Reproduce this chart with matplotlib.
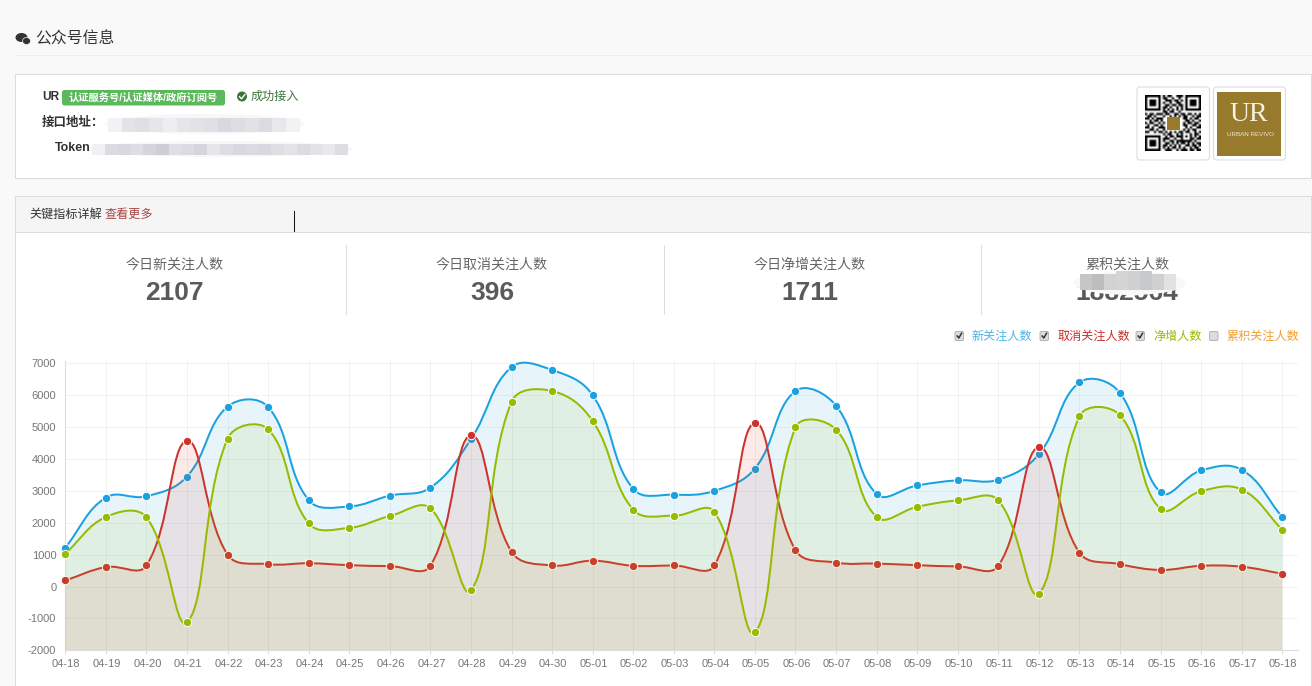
import matplotlib
matplotlib.use("Agg")
import matplotlib.pyplot as plt
import numpy as np
from matplotlib.patches import Rectangle, FancyBboxPatch, Ellipse, PathPatch
from matplotlib.path import Path
from matplotlib.transforms import ScaledTranslation

plt.rcParams['font.family'] = ['Liberation Sans', 'Noto Sans CJK SC', 'DejaVu Sans']
plt.rcParams['axes.unicode_minus'] = False

# chart data
dates = ["04-18", "04-19", "04-20", "04-21", "04-22", "04-23", "04-24", "04-25", "04-26", "04-27", "04-28",
         "04-29", "04-30", "05-01", "05-02", "05-03", "05-04", "05-05", "05-06", "05-07", "05-08", "05-09",
         "05-10", "05-11", "05-12", "05-13", "05-14", "05-15", "05-16", "05-17", "05-18"]
new_follow = [1220, 2790, 2830, 3450, 5640, 5630, 2710, 2510, 2850, 3100, 4620, 6880, 6790, 6000, 3060, 2880,
              3000, 3700, 6130, 5670, 2900, 3170, 3330, 3350, 4150, 6400, 6070, 2950, 3640, 3660, 2180]
cancel_follow = [190, 610, 660, 4570, 1000, 700, 730, 670, 640, 650, 4740, 1090, 660, 810, 650, 660,
                 660, 5130, 1140, 750, 720, 670, 630, 650, 4370, 1060, 700, 520, 650, 620, 400]
net_follow = [1030, 2180, 2170, -1120, 4640, 4930, 1980, 1840, 2210, 2450, -120, 5790, 6130, 5190, 2410, 2220,
              2340, -1430, 4990, 4920, 2180, 2500, 2700, 2700, -220, 5340, 5370, 2430, 2990, 3040, 1780]
y_ticks = [-2000, -1000, 0, 1000, 2000, 3000, 4000, 5000, 6000, 7000]

stat_titles = ["今日新关注人数", "今日取消关注人数", "今日净增关注人数", "累积关注人数"]
stat_values = ["2107", "396", "1711", "1882564"]
legend_names = ["新关注人数", "取消关注人数", "净增人数", "累积关注人数"]

# screenshot leftovers: mosaic tones of the blurred fields
blur_row1 = ["#f2f2f4", "#e4e3e8", "#e0dfe5", "#e6e5ea", "#eeeef0", "#e6e6ea", "#e3e2e7", "#e0dfe5", "#d9d8df", "#dedde3", "#e2e1e6", "#dcdbe1", "#e8e7ec", "#f2f2f4"]
blur_row2 = ["#f1f1f3", "#dcdbe1", "#d9d8df", "#dedde3", "#d6d5dc", "#cfced6", "#e0dfe5", "#dcdbe1", "#d6d5dc", "#e6e5ea", "#dedde3", "#d9d8df", "#dcdbe1", "#d9d8df", "#dfdee4", "#e4e3e8", "#dcdbe1", "#e3e2e7", "#e8e7ec", "#dedde3"]
blur_stat = ["#c6c6c6", "#bdbdbd", "#d2d2d2", "#d4d4d4", "#cfd0d2", "#c7c9cc", "#d0d0d0", "#e2e2e2"]
qr_rows = [
    "1111111010110011101111111",
    "1000001011001001001000001",
    "1011101001110110101011101",
    "1011101010010011001011101",
    "1011101001101101101011101",
    "1000001011010010101000001",
    "1111111010101010101111111",
    "0000000011011001000000000",
    "1011011101100110110110101",
    "0110100010010101011001011",
    "1101011100000000011010110",
    "0010110100000000001101001",
    "1011001010000000010110110",
    "0100110100000000011001101",
    "1101001110000000001010011",
    "0011010010000000010101100",
    "1100101101010101101100101",
    "0000000010110010100010110",
    "1111111001011011101010101",
    "1000001011100100100011011",
    "1011101010011011111110100",
    "1011101001101010110101011",
    "1011101011010101001101101",
    "1000001010101101010010110",
    "1111111001110010111011011",
]

W, H = 1312, 686
X_LEFT, X_LAST, X_RIGHT = 65.3, 1282.3, 1298.0
Y_TOP, Y_BOTTOM, Y_ABOVE = 363.3, 650.3, 361.0

fig = plt.figure(figsize=(W / 100, H / 100), dpi=100, facecolor="#f9f9f9")

# page layer in screen pixels
page = fig.add_axes([0, 0, 1, 1])
page.set_xlim(0, W)
page.set_ylim(H, 0)
page.axis("off")


def box(x0, y0, x1, y1, fc, ec="none", lw=0, z=1):
    page.add_patch(Rectangle((x0, y0), x1 - x0, y1 - y0, fc=fc, ec=ec, lw=lw, zorder=z))


def label(x, y, s, size, color="#333333", ha="left", weight="normal", z=5, family=None):
    # +1.5: va=center sits a bit high against the browser text
    t = page.text(x, y + 1.5, s, fontsize=size, color=color, ha=ha, va="center", fontweight=weight, zorder=z)
    if family:
        t.set_family(family)


def rounded(x0, y0, x1, y1, fc, ec="none", lw=0, r=3, z=2):
    page.add_patch(FancyBboxPatch((x0 + r, y0 + r), x1 - x0 - 2 * r, y1 - y0 - 2 * r,
                                  boxstyle=f"round,pad={r},rounding_size={r}", fc=fc, ec=ec, lw=lw, zorder=z))


# page title
page.add_patch(Ellipse((21.5, 37.5), 12, 9, fc="#333333", zorder=3))
page.add_patch(Ellipse((26.5, 41), 8, 7, fc="#333333", ec="#f9f9f9", lw=0.5, zorder=3))
label(35, 37, "公众号信息", 11.4, "#333333")
box(15, 55, W, 56, "#eeeeee")

# account panel
box(15, 74, 1311, 178, "white", ec="#dddddd", lw=0.8)
label(42, 95, "UR", 8.6, "#333333", weight="bold")
rounded(62, 90, 225, 105.5, "#5cb85c", r=2.5)
label(143.5, 96.2, "认证服务号/认证媒体/政府订阅号", 7.4, "white", ha="center", weight="bold")
page.add_patch(Ellipse((242, 96.5), 10, 10, fc="#3c763d", zorder=3))
page.plot([239.5, 241.5, 244.8], [96.7, 98.8, 94.6], color="white", lw=1.0, zorder=4)
label(251, 95.5, "成功接入", 8.7, "#3c763d")
label(42, 121, "接口地址：", 9.0, "#333333", weight="bold")
label(55, 146.5, "Token", 8.9, "#333333", weight="bold")

page.add_patch(Ellipse((205, 124), 200, 20, fc="#f7f7f8", zorder=2))
for i, c in enumerate(blur_row1):
    box(108 + i * 13.7, 118, 108 + (i + 1) * 13.7, 132, c, z=3)
page.add_patch(Ellipse((220, 149), 264, 16, fc="#f7f7f8", zorder=2))
for i, c in enumerate(blur_row2):
    box(92 + i * 12.8, 144, 92 + (i + 1) * 12.8, 155, c, z=3)

# qr code and logo thumbnails
rounded(1137, 87, 1209.5, 160, "white", ec="#dddddd", lw=0.8)
rounded(1213.5, 87, 1285.5, 160, "white", ec="#dddddd", lw=0.8)
qr = np.array([[1.0 - int(ch) for ch in row] for row in qr_rows])
page.imshow(qr, cmap="gray", vmin=0, vmax=1, extent=(1145, 1201, 151, 95), aspect="auto",
            interpolation="bilinear", zorder=3)
box(1166.5, 116.5, 1179.5, 129.5, "#977a2c", z=4)
box(1217, 92, 1281, 155.5, "#977a2c", z=3)
label(1249, 113, "UR", 20, "#f6f1e2", ha="center", z=4, family="Liberation Serif")
label(1250.5, 133.5, "URBAN REVIVO", 4.5, "#f0e8d0", ha="center", z=4)

# indicator panel
box(15, 196, 1311, 700, "white", ec="#dddddd", lw=0.8)
box(15.5, 196.5, 1310.5, 232, "#f5f5f5", z=2)
box(15.5, 232, 1310.5, 233, "#dddddd", z=2)
label(29, 213.5, "关键指标详解", 8.7, "#333333")
label(104.5, 213.5, "查看更多", 8.7, "#a94442")
box(294, 211, 295, 232, "#111111", z=3)

# today's numbers
stat_x = [174.5, 492, 810, 1127]
for x, title, value in zip(stat_x, stat_titles, stat_values):
    label(x, 263, title, 10.1, "#666666", ha="center")
    label(x, 291, value, 19, "#5a5a5a", ha="center", weight="bold")
for x in [346.5, 664.5, 981.5]:
    box(x - 0.5, 245, x + 0.5, 315, "#dddddd")
page.add_patch(Ellipse((1130, 283), 112, 24, fc="#f8f8f9", zorder=6))
for i, c in enumerate(blur_stat):
    box(1080 + i * 12, 274 - (i in (3, 4, 5)) * 3, 1080 + (i + 1) * 12, 290, c, z=7)

# series toggles above the chart
toggle_x = [955, 1040, 1136, 1209.5]
name_x = [972, 1057, 1153, 1226]
name_colors = ["#4fb3e6", "#c9302c", "#99bb00", "#f0a030"]
for i in range(4):
    rounded(toggle_x[i], 331.5, toggle_x[i] + 8.5, 340.5, "#dcdcdc", ec="#aaaaaa", lw=0.6, r=1.2)
    if i < 3:
        xc = toggle_x[i]
        page.plot([xc + 2.2, xc + 3.8, xc + 6.6], [336, 338, 333.2], color="#333333", lw=1.1, zorder=4)
    label(name_x[i], 335, legend_names[i], 8.7, name_colors[i])

# chart axes, pinned to the pixel frame of the reference
x_scale = (X_LAST - X_LEFT) / (len(dates) - 1)
y_scale = (Y_BOTTOM - Y_TOP) / 9000.0
ax = fig.add_axes([X_LEFT / W, 1 - Y_BOTTOM / H, (X_RIGHT - X_LEFT) / W, (Y_BOTTOM - Y_ABOVE) / H])
ax.patch.set_alpha(0)
ax.set_xlim(0, (X_RIGHT - X_LEFT) / x_scale)
ax.set_ylim(-2000, 7000 + (Y_TOP - Y_ABOVE) / y_scale)
ax.set_xticks(range(len(dates)))
ax.set_xticklabels(dates)
ax.set_yticks(y_ticks)
ax.tick_params(axis="x", length=3, color="#dddddd", labelsize=8.0, labelcolor="#777777", pad=3.5)
ax.tick_params(axis="y", length=0, labelsize=8.0, labelcolor="#777777", pad=6.5)
# date labels sit one pixel right of their tick
nudge = ScaledTranslation(1 / 100, 0, fig.dpi_scale_trans)
for tick_text in ax.get_xticklabels():
    tick_text.set_transform(tick_text.get_transform() + nudge)
ax.grid(True, color="#000000", alpha=0.05, lw=0.75)
ax.set_axisbelow(True)
for side in ["top", "right"]:
    ax.spines[side].set_visible(False)
for side in ["left", "bottom"]:
    ax.spines[side].set_color("#dddddd")
    ax.spines[side].set_linewidth(0.8)


# same bezier smoothing as the web chart (tension 0.4), worked out in pixel space
def spline_path(values, tension=0.4):
    xs = np.arange(len(values), dtype=float)
    ys = np.array(values, dtype=float)
    px, py = xs * x_scale, ys * y_scale
    n = len(values)
    verts = [(xs[0], ys[0])]
    codes = [Path.MOVETO]
    before, after = [], []
    for i in range(n):
        a, b = max(i - 1, 0), min(i + 1, n - 1)
        d01 = np.hypot(px[i] - px[a], py[i] - py[a])
        d12 = np.hypot(px[b] - px[i], py[b] - py[i])
        fa = tension * d01 / (d01 + d12)
        fb = tension * d12 / (d01 + d12)
        before.append((xs[i] - fa * (xs[b] - xs[a]), ys[i] - fa * (ys[b] - ys[a])))
        after.append((xs[i] + fb * (xs[b] - xs[a]), ys[i] + fb * (ys[b] - ys[a])))
    for i in range(1, n):
        verts += [after[i - 1], before[i], (xs[i], ys[i])]
        codes += [Path.CURVE4] * 3
    return verts, codes


series = [(new_follow, (26, 162, 224), "#1aa2e0"),
          (cancel_follow, (225, 50, 30), "#cc332d"),
          (net_follow, (168, 195, 30), "#96bb00")]
base = -2000
for k, (values, rgb, color) in enumerate(series):
    verts, codes = spline_path(values)
    fill_verts = verts + [(len(values) - 1, base), (0, base), (0, values[0])]
    fill_codes = codes + [Path.LINETO, Path.LINETO, Path.CLOSEPOLY]
    ax.add_patch(PathPatch(Path(fill_verts, fill_codes), fc=tuple(c / 255 for c in rgb) + (0.1,),
                           ec="none", zorder=2 + k * 3))
    ax.add_patch(PathPatch(Path(verts, codes), fc="none", ec=color, lw=1.45, zorder=3 + k * 3, clip_on=False))
    ax.plot(range(len(values)), values, ls="none", marker="o", ms=6, mfc=color, mec="white", mew=0.7,
            zorder=4 + k * 3, clip_on=False)

fig.savefig("out.png", dpi=100, facecolor=fig.get_facecolor())
